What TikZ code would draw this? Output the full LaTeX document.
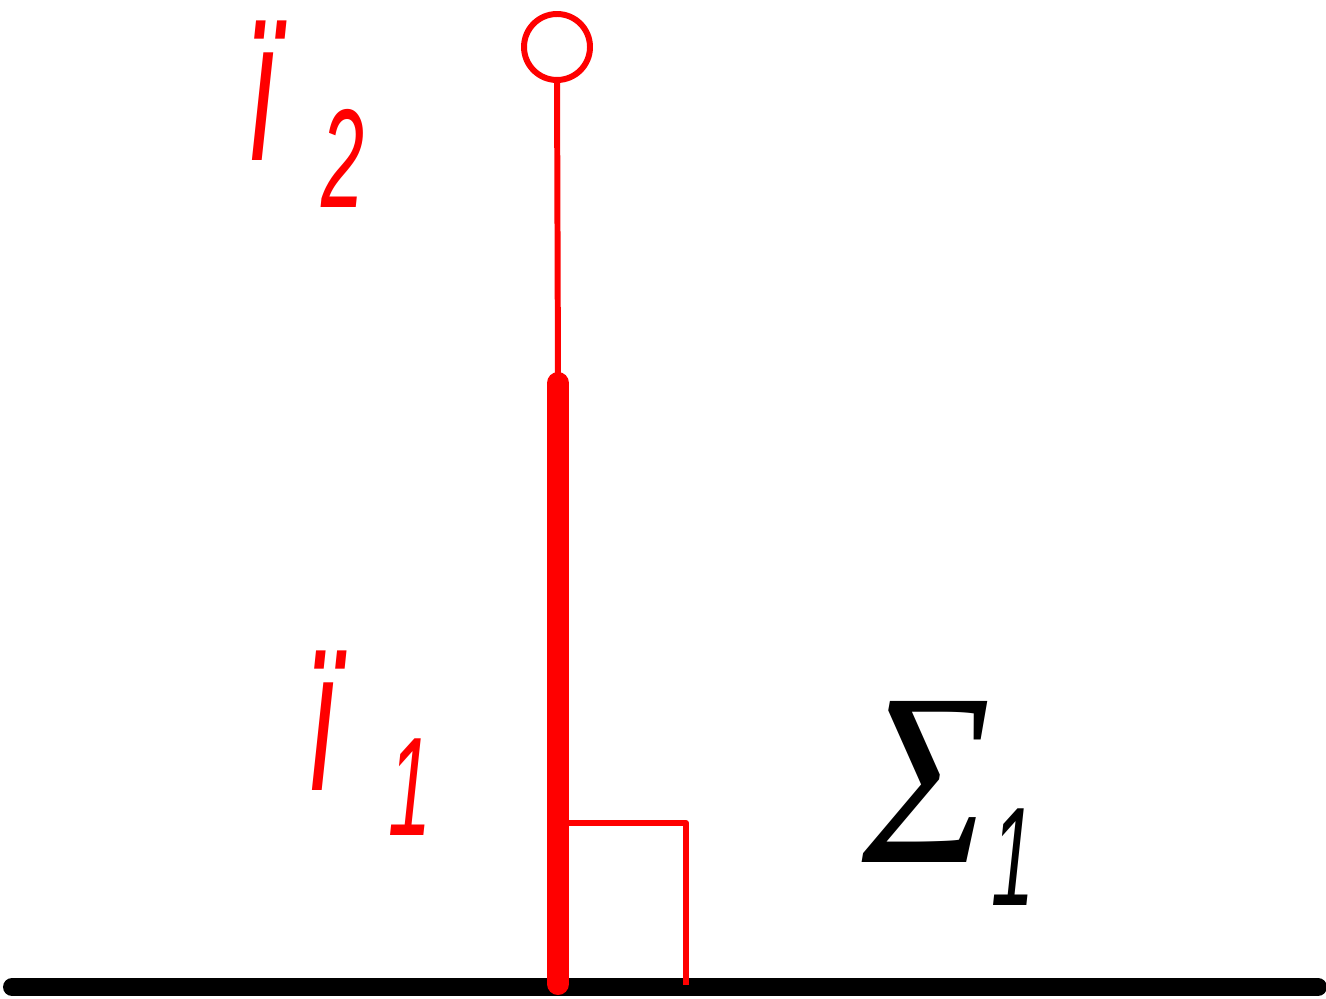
\documentclass[tikz,border=0pt]{standalone}
\usepackage{fontspec}
\usepackage{graphicx}
\setmainfont{Liberation Sans}
\newfontfamily\chuhyl{Liberation Serif}
\newcommand{\chisohep}[2]{{\fontsize{#1}{#1}\selectfont\itshape\scalebox{0.55}[1]{#2}}}
\begin{document}
\begin{tikzpicture}[line join=round, line cap=round, >=stealth, scale=1]
	\useasboundingbox (0,0) rectangle (13.26,9.98);
	\tikzset{
		nhan/.style={red, inner sep=0pt, anchor=base west},
		manh/.style={red, line width=1.7pt}
	}
	%Các điểm
	\coordinate (A) at (0.12,0.11);
	\coordinate (B) at (13.18,0.11);
	\coordinate (H) at (5.58,0.14);
	\coordinate (M) at (5.58,6.15);
	\coordinate (O) at (5.57,9.51);
	\coordinate (K) at (5.69,1.75);
	\coordinate (L) at (6.86,1.75);
	\coordinate (L') at (6.86,0.13);
	%Mặt phẳng
	\draw[line width=0.18cm] (A)--(B);
	%Đường thẳng
	\draw[red, line width=0.22cm] (H)--(M);
	\draw[manh] (M)--(5.57,9.18);
	\draw[manh] (O) circle(0.33);
	%Góc vuông
	\draw[manh, line cap=butt] (K)--(L)--(L');
	%Nhãn
	\node[nhan] (nhanhai) at (2.47,8.38)
		{\chisohep{58pt}{ï}\hspace{0.43cm}\raisebox{-0.47cm}{\chisohep{40pt}{2}}};
	\node[nhan] (nhanmot) at (3.07,2.08)
		{\chisohep{58pt}{ï}\hspace{0.5cm}\raisebox{-0.45cm}{\chisohep{40pt}{1}}};
	\node[inner sep=0pt, anchor=base west] (sigma) at (8.62,1.36)
		{\scalebox{0.88}[1]{\fontsize{70pt}{70pt}\selectfont\chuhyl\itshape Σ}\raisebox{-0.43cm}{\chisohep{40pt}{1}}};
\end{tikzpicture}
\end{document}
